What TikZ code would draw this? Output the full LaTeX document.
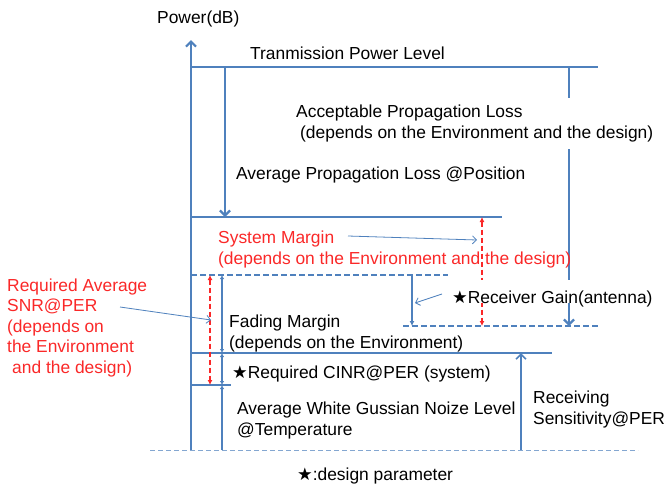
\documentclass[tikz,border=0pt]{standalone}
\usepackage{fontspec}
\setmainfont{Liberation Sans}
\newfontfamily\starfont{DejaVu Sans}
\usetikzlibrary{arrows.meta}

\definecolor{lineblue}{RGB}{79,129,189}
\definecolor{notered}{RGB}{250,40,40}
\newcommand\dstar{{\starfont ★}}

\tikzset{
  level/.style={draw=lineblue, line width=2.2pt},
  dlevel/.style={level, dash pattern=on 6pt off 3pt},
  barb/.style={-{Straight Barb[length=5pt,width=10pt]}},
  dbl/.style={draw=lineblue, line width=1.6pt, {Latex[length=4pt,width=4.5pt]}-{Latex[length=4pt,width=4.5pt]}},
  reddbl/.style={draw=notered, line width=1.6pt, dash pattern=on 5pt off 3pt,
    {Latex[length=5pt,width=5pt]}-{Latex[length=5pt,width=5pt]}},
  pointer/.style={draw=lineblue, line width=0.8pt, -{Straight Barb[length=4pt,width=8pt]}},
  lbl/.style={anchor=base west, inner sep=0pt, align=left, font=\fontsize{17.4}{20.5}\selectfont},
}

\begin{document}
\begin{tikzpicture}[x=1pt,y=-1pt]
\useasboundingbox (0,0) rectangle (665,485);

\foreach \n/\y in {tx/67,rx/217,snr/275,cn/353,nz/385,O/450}
  \coordinate (\n) at (191,\y);
\coordinate (gl)    at (403,326);
\coordinate (aprop) at (225,67);
\coordinate (accl)  at (569,67);
\coordinate (gain)  at (412,275);
\coordinate (smx)   at (482,217);
\coordinate (snrx)  at (210,275);
\coordinate (fm)    at (222,275);
\coordinate (sens)  at (521,450);

% levels
\draw[level,barb] (O) -- ++(0,-410);
\draw[level] (tx) -- ++(407,0);
\draw[level,line width=2.6pt] (rx) -- ++(311,0);
\draw[dlevel] (snr) -- ++(257,0);
\draw[dlevel] (gl) -- ++(195,0);
\draw[level] (cn) -- ++(361,0);
\draw[level,line width=1.6pt] (nz) -- ++(40,0);
\draw[draw=lineblue!70,line width=0.8pt,dash pattern=on 5pt off 3pt] (O) ++(-41,0) -- ++(488,0);

% differences
\draw[level,barb] (aprop) -- (aprop |- rx);
\draw[level,barb] (accl) -- (accl |- gl);
\draw[level,line width=1.6pt,-{Latex[length=5pt,width=5pt]}] (gain) -- (gain |- gl);
\draw[level,line width=1.6pt,barb] (sens) -- (sens |- cn);
\draw[dbl] (fm) -- (fm |- cn);
\draw[dbl] (fm |- cn) -- (fm |- nz);
\draw[dbl,arrows={-Latex[length=4pt,width=4.5pt]}] (fm |- O) -- (fm |- nz);
\draw[reddbl] (smx) -- (smx |- gl);
\draw[reddbl] (snrx) -- (snrx |- nz);

\node[lbl] (ylab) at (157,23) {Power(dB)};
\node[lbl] (txlab) at (250,59) {Tranmission Power Level};
\node[lbl,fill=white,inner ysep=7pt] (acc) at (296,138)
  {Acceptable Propagation Loss\\\hspace{4pt}(depends on the Environment and the design)};
\node[lbl] (apl) at (236,179) {Average Propagation Loss @Position};
\node[lbl,text=notered] (sysm) at (218,264)
  {System Margin\\(depends on the Environment and the design)};
\node[lbl,text=notered] (snrn) at (7,373)
  {Required Average\\SNR@PER\\(depends on\\the Environment\\\hspace{5pt}and the design)};
\node[lbl] (fade) at (229,348) {Fading Margin\\(depends on the Environment)};
\node[lbl,fill=white,text height=23pt,text depth=0pt] (rg) at (452,303) {\dstar Receiver Gain(antenna)};
\node[lbl] (cinr) at (232,378) {\dstar Required CINR@PER (system)};
\node[lbl] (awgn) at (237,435) {Average White Gussian Noize Level\\@Temperature};
\node[lbl] (rs) at (533,424) {Receiving\\Sensitivity@PER};
\node[lbl] (dp) at (297,480) {\dstar:design parameter};

\coordinate (smtail) at (348,236);  \coordinate (smhead) at (477,240);
\coordinate (snrtail) at (120,307); \coordinate (snrhead) at (211,320);
\coordinate (rgtail) at (442,294);  \coordinate (rghead) at (415,303);
\draw[pointer] (smtail) -- (smhead);
\draw[pointer] (snrtail) -- (snrhead);
\draw[pointer] (rgtail) -- (rghead);
\end{tikzpicture}
\end{document}
